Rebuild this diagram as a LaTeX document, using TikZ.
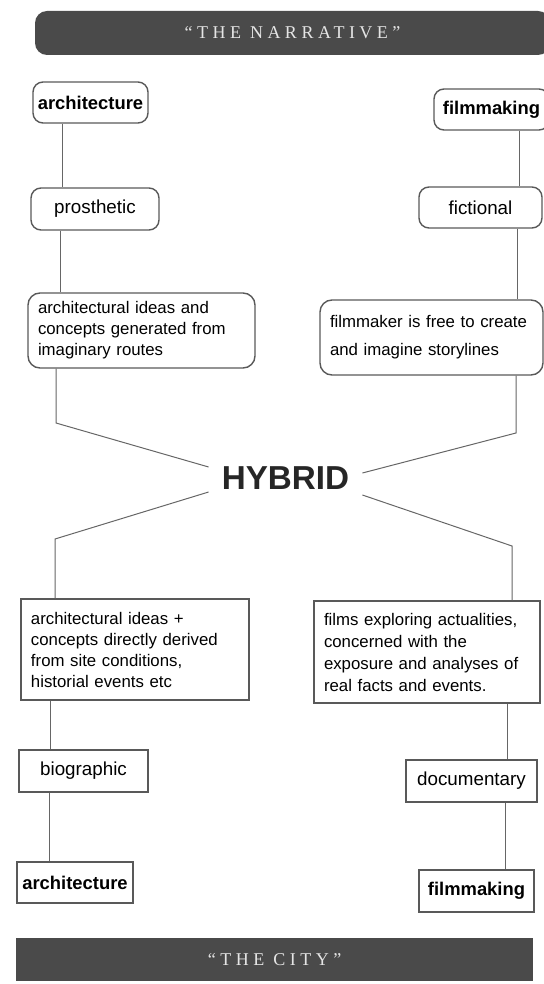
\documentclass[tikz,border=0pt]{standalone}
\usepackage{fontspec}
\setmainfont{Liberation Sans}
\newfontfamily\bannerfont[LetterSpace=25]{Liberation Serif}
\usepackage{tikz}
\usetikzlibrary{calc}

\begin{document}
\begin{tikzpicture}[x=0.5pt, y=-0.5pt]
    \tikzstyle{banner} = [rectangle, fill=black!71, text=white!90!black, inner sep=0pt, font=\bannerfont\fontsize{9}{10}\selectfont]
    \tikzstyle{roundbox} = [rectangle, rounded corners=5pt, draw=black!65, line width=0.7pt, align=center, inner sep=0pt, font=\fontsize{9.4}{11}\selectfont]
    \tikzstyle{squarebox} = [rectangle, draw=black!65, line width=0.7pt, align=center, inner sep=0pt, font=\fontsize{9.4}{11}\selectfont]
    \tikzstyle{textbox} = [align=left, inner xsep=5pt, inner ysep=0pt, font=\fontsize{8.4}{10.5}\selectfont]
    \tikzstyle{headword} = [font=\fontsize{9.2}{11}\selectfont\bfseries]
    \tikzstyle{link} = [draw=black!60, line width=0.5pt]

    \useasboundingbox (0,0) rectangle (544,984);

    % Nodes
    \node (n_narrative) [banner, rounded corners=6pt, minimum width=257.5pt, minimum height=22pt] at (292.5,33) {“THE NARRATIVE”};

    \node (n_arch_top) [roundbox, headword, minimum width=57.5pt, minimum height=20.5pt] at (90.5,102.5) {architecture};
    \node (n_film_top) [roundbox, headword, minimum width=57.5pt, minimum height=20.5pt] at (491.5,109.5) {filmmaking};
    \node (n_prosthetic) [roundbox, minimum width=64pt, minimum height=21pt] at (95,209) {prosthetic};
    \node (n_fictional) [roundbox, minimum width=61.5pt, minimum height=20.5pt] at (480.5,207.5) {fictional};
    \node (n_ideas_top) [roundbox, textbox, rounded corners=6pt, text width=103.5pt, minimum height=37.5pt] at (141.5,330.5) {architectural ideas and\\concepts generated from\\imaginary routes};
    \node (n_free) [roundbox, textbox, rounded corners=6pt, text width=101.5pt, minimum height=37.5pt] at (431.5,337.5) {filmmaker is free to create\\[3.5pt]and imagine storylines};

    \node (n_hybrid) [font=\fontsize{16.6}{18}\selectfont\bfseries, text=black!85, inner sep=0pt, minimum width=76.5pt, minimum height=12.5pt] at (285.5,478) {HYBRID};

    \node (n_ideas_bot) [squarebox, textbox, text width=104pt, minimum height=50.5pt] at (135,649.5) {architectural ideas +\\concepts directly derived\\from site conditions,\\historial events etc};
    \node (n_films) [squarebox, textbox, text width=103pt, minimum height=51pt, font=\fontsize{8.4}{11}\selectfont] at (427,652) {films exploring actualities,\\concerned with the\\exposure and analyses of\\real facts and events.};
    \node (n_biographic) [squarebox, minimum width=64.5pt, minimum height=21pt] at (83.5,771) {biographic};
    \node (n_documentary) [squarebox, minimum width=65.5pt, minimum height=21pt] at (471.5,781) {documentary};
    \node (n_arch_bot) [squarebox, headword, minimum width=58pt, minimum height=20.5pt] at (75,882.5) {architecture};
    \node (n_film_bot) [squarebox, headword, minimum width=57.5pt, minimum height=21pt] at (476.5,891) {filmmaking};

    \node (n_city) [banner, minimum width=258.5pt, minimum height=21.5pt] at (274.5,959.5) {“THE CITY”};

    % Bends
    \coordinate (b_ul) at (56,423);
    \coordinate (b_ur) at (516,433);
    \coordinate (b_ll) at (55,539);
    \coordinate (b_lr) at (512,546);

    % Lines
    \foreach \a/\b/\x in {n_arch_top/n_prosthetic/62, n_prosthetic/n_ideas_top/60, n_film_top/n_fictional/519, n_fictional/n_free/517,
                          n_ideas_bot/n_biographic/50, n_biographic/n_arch_bot/49, n_films/n_documentary/507, n_documentary/n_film_bot/505}
        \draw [link] (\a.south -| \x,0) -- (\b.north -| \x,0);

    \draw [link] (n_ideas_top.south -| b_ul) -- (b_ul) -- ($(n_hybrid.west)+(0,-11)$);
    \draw [link] (n_free.south -| b_ur) -- (b_ur) -- ($(n_hybrid.east)+(0,-5)$);
    \draw [link] ($(n_hybrid.west)+(0,14)$) -- (b_ll) -- (n_ideas_bot.north -| b_ll);
    \draw [link] ($(n_hybrid.east)+(0,17)$) -- (b_lr) -- (n_films.north -| b_lr);
\end{tikzpicture}
\end{document}
